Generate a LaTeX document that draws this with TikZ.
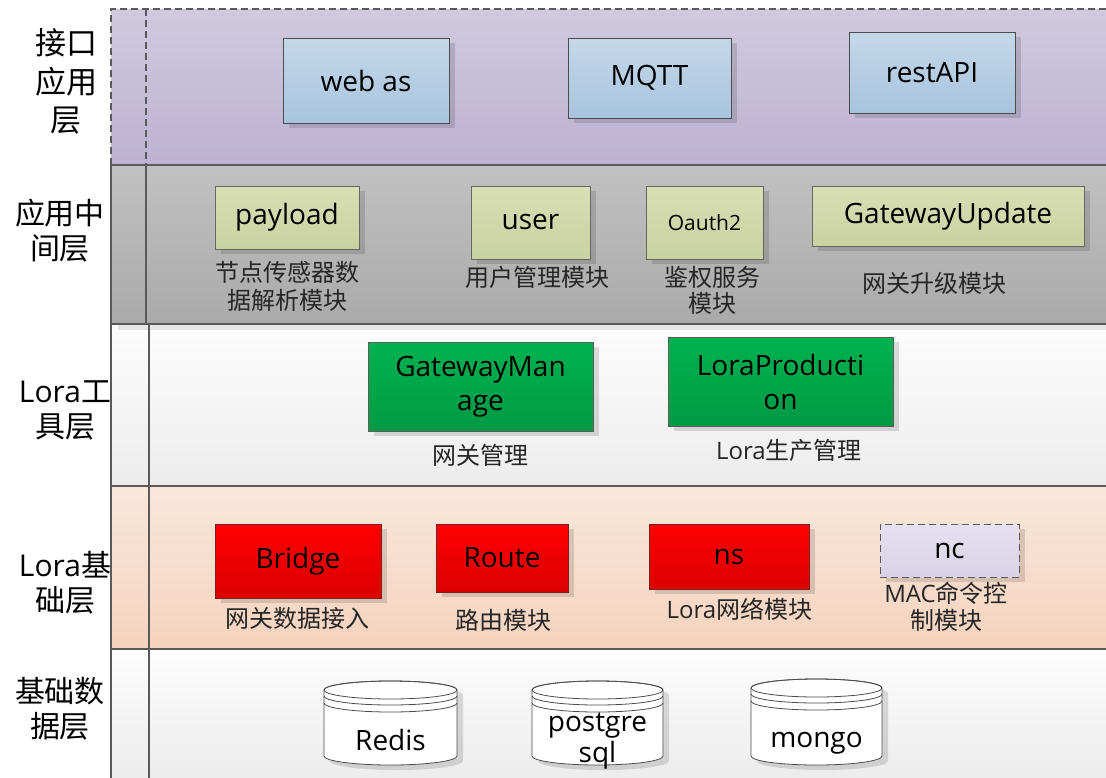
\documentclass[tikz,border=0pt]{standalone}
\usepackage{fontspec}
\setmainfont{Open Sans}
\newfontfamily\cjk{Noto Sans CJK SC}
\usetikzlibrary{shadows}

% layer fills
\definecolor{lonetop}{RGB}{209,201,224}
\definecolor{lonebot}{RGB}{189,178,210}
\definecolor{ltwotop}{RGB}{193,193,193}
\definecolor{ltwobot}{RGB}{170,170,170}
\definecolor{lpaletop}{RGB}{253,253,253}
\definecolor{lpalebot}{RGB}{236,236,236}
\definecolor{lpeachtop}{RGB}{250,231,219}
\definecolor{lpeachbot}{RGB}{244,211,190}
\definecolor{frameline}{RGB}{90,90,90}
% box fills
\definecolor{bluetop}{RGB}{196,216,234}
\definecolor{bluebot}{RGB}{168,196,221}
\definecolor{olivetop}{RGB}{216,223,181}
\definecolor{olivebot}{RGB}{201,210,160}
\definecolor{greentop}{RGB}{0,178,80}
\definecolor{greenbot}{RGB}{0,154,68}
\definecolor{redtop}{RGB}{255,0,0}
\definecolor{redbot}{RGB}{220,0,0}
\definecolor{redline}{RGB}{122,30,30}
\definecolor{nctop}{RGB}{229,225,239}
\definecolor{ncbot}{RGB}{216,211,230}

\newcommand\zhtxt[1]{{\cjk #1}}
% database drum: centre x, top-ellipse y, bottom-ellipse y, x radius
\newcommand\dbdrum[4]{%
  \path[drum, drop shadow={shadow xshift=6pt,shadow yshift=-5pt,fill=black,opacity=0.13}]
    (#1-#4,#2) -- (#1-#4,#3)
    arc[start angle=180,end angle=360,x radius=#4pt,y radius=9pt]
    -- (#1+#4,#2)
    arc[start angle=0,end angle=180,x radius=#4pt,y radius=9pt] -- cycle;
  \draw[drumline] (#1,#2) ellipse[x radius=#4pt,y radius=9pt];
  \draw[drumline] (#1-#4,#2+6) arc[start angle=180,end angle=360,x radius=#4pt,y radius=9pt];
  \draw[drumline] (#1-#4,#2+13) arc[start angle=180,end angle=360,x radius=#4pt,y radius=9pt];
}

\begin{document}
\begin{tikzpicture}[x=1pt,y=-1pt,
  frame/.style={draw=frameline,line width=1.2pt},
  dashframe/.style={frame,dash pattern=on 7pt off 4pt},
  box/.style={draw=black!70,line width=0.9pt,inner sep=0pt,align=center,
    font=\fontsize{28}{34}\selectfont,
    drop shadow={shadow xshift=6pt,shadow yshift=-5pt,fill=black,opacity=0.13}},
  bluebox/.style={box,top color=bluetop,bottom color=bluebot},
  olivebox/.style={box,draw=black!60,top color=olivetop,bottom color=olivebot},
  greenbox/.style={box,draw=black!65,top color=greentop,bottom color=greenbot},
  redbox/.style={box,draw=redline,top color=redtop,bottom color=redbot},
  ncbox/.style={box,draw=black!65,dash pattern=on 7pt off 4pt,top color=nctop,bottom color=ncbot},
  lbl/.style={inner sep=0pt,align=center,text=black!85,font=\fontsize{24}{27}\selectfont},
  side/.style={inner sep=0pt,align=center,text=black,font=\fontsize{30}{35}\selectfont},
  drum/.style={draw=black!70,line width=0.8pt,fill=white},
  drumline/.style={draw=black!70,line width=0.8pt},
  dbtext/.style={inner sep=0pt,align=center,font=\fontsize{28}{31}\selectfont}]

\useasboundingbox (0,0) rectangle (1106,777);
\fill[white] (0,0) rectangle (1106,777);

% ---- layer bands ----
\fill[top color=lonetop,bottom color=lonebot] (111,9) rectangle (1112,165);
\fill[top color=ltwotop,bottom color=ltwobot] (111,165) rectangle (1112,324);
\fill[top color=lpaletop,bottom color=lpalebot] (111,324) rectangle (1112,486);
\fill[black!10] (118,324) rectangle (1112,330);
\fill[top color=lpeachtop,bottom color=lpeachbot] (111,486) rectangle (1112,649);
\fill[top color=lpaletop,bottom color=lpalebot] (111,649) rectangle (1112,780);

% band outlines and title column
\draw[dashframe] (111,165) -- (111,9) -- (1112,9);
\draw[dashframe] (146,9) -- (146,165);
\draw[frame] (111,165) -- (1112,165);
\draw[frame] (111,165) -- (111,780);
\draw[frame] (146,165) -- (146,324);
\draw[frame] (111,324) -- (1112,324);
\draw[frame] (149,324) -- (149,780);
\draw[frame] (111,486) -- (1112,486);
\draw[frame] (111,649) -- (1112,649);

% ---- band titles ----
\node[side,font=\fontsize{31}{38.5}\selectfont] (tIface) at (66,81.5) {\zhtxt{接口}\\\zhtxt{应用}\\\zhtxt{层}};
\node[side] (tMid) at (60,230.5) {\zhtxt{应用中}\\\zhtxt{间层}};
\node[side] (tTool) at (65,410.5) {Lora\zhtxt{工}\\\zhtxt{具层}};
\node[side] (tBase) at (65,582.5) {Lora\zhtxt{基}\\\zhtxt{础层}};
\node[side] (tData) at (60,709) {\zhtxt{基础数}\\\zhtxt{据层}};

% ---- interface layer ----
\node[bluebox,minimum width=166pt,minimum height=85pt] (webas) at (366,80.5) {web as};
\node[bluebox,minimum width=163pt,minimum height=80pt] (mqtt) at (649.5,78) {MQTT};
\node[bluebox,minimum width=166pt,minimum height=81pt] (rest) at (932,72.5) {restAPI};

% ---- middleware layer ----
\node[olivebox,minimum width=144pt,minimum height=63pt] (payload) at (287,217.5) {payload};
\node[olivebox,minimum width=119pt,minimum height=73pt] (user) at (530.5,222.5) {user};
\node[olivebox,minimum width=117pt,minimum height=73pt,font=\fontsize{21}{25}\selectfont] (oauth) at (704.5,222.5) {Oauth2};
\node[olivebox,minimum width=272pt,minimum height=60pt] (gwupd) at (948,216) {GatewayUpdate};

\node[lbl,font=\fontsize{24}{28}\selectfont] (payloadL) at (287,286) {\zhtxt{节点传感器数}\\\zhtxt{据解析模块}};
\node[lbl] (userL) at (537,277) {\zhtxt{用户管理模块}};
\node[lbl,font=\fontsize{24}{26}\selectfont] (oauthL) at (712,290) {\zhtxt{鉴权服务}\\\zhtxt{模块}};
\node[lbl] (gwupdL) at (934,283) {\zhtxt{网关升级模块}};

% ---- Lora tool layer ----
\node[greenbox,minimum width=225pt,minimum height=89pt] (gwman) at (480.5,386.5) {GatewayMan\\age};
\node[greenbox,minimum width=225pt,minimum height=89pt] (lprod) at (780.5,381.5) {LoraProducti\\on};
\node[lbl] (gwmanL) at (480,455) {\zhtxt{网关管理}};
\node[lbl] (lprodL) at (789,450) {Lora\zhtxt{生产管理}};

% ---- Lora base layer ----
\node[redbox,minimum width=166pt,minimum height=74pt] (bridge) at (298,561) {Bridge};
\node[redbox,minimum width=132pt,minimum height=68pt] (route) at (502,558) {Route};
\node[redbox,minimum width=160pt,minimum height=65pt] (ns) at (729,556.5) {ns};
\node[ncbox,minimum width=139pt,minimum height=53pt] (nc) at (949.5,550.5) {nc};

\node[lbl] (bridgeL) at (297,618) {\zhtxt{网关数据接入}};
\node[lbl] (routeL) at (503,620) {\zhtxt{路由模块}};
\node[lbl] (nsL) at (739.5,609) {Lora\zhtxt{网络模块}};
\node[lbl] (ncL) at (946,606.5) {MAC\zhtxt{命令控}\\\zhtxt{制模块}};

% ---- storage layer ----
\dbdrum{390.5}{690}{756}{66.5}
\dbdrum{597.5}{690}{756}{65.5}
\dbdrum{816.5}{688}{756}{65.5}
\node[dbtext] (redis) at (390.5,740) {Redis};
\node[dbtext] (pgsql) at (597.5,741.5) {postgre\\sql};
\node[dbtext] (mongo) at (816.5,743) {mongo};

\end{tikzpicture}
\end{document}
